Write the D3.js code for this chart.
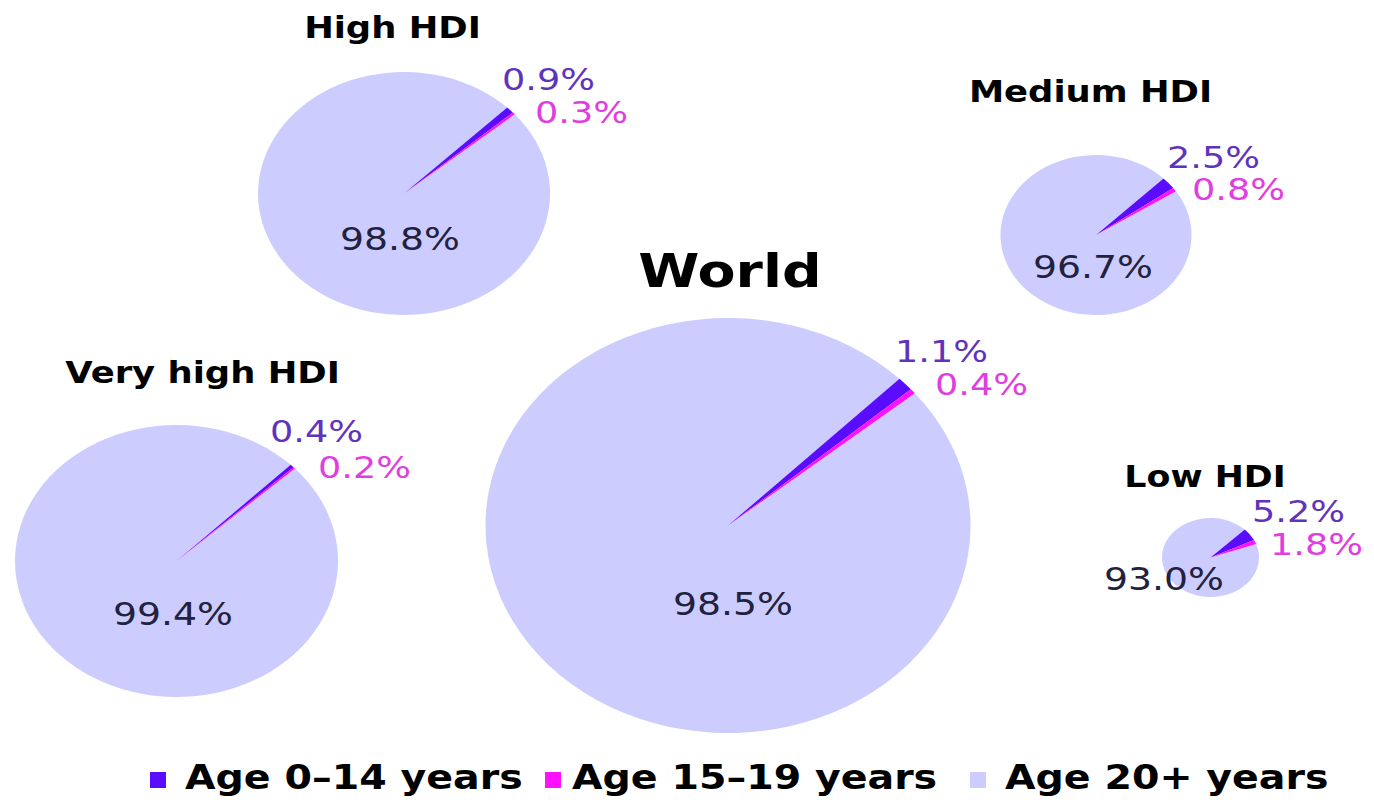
<!DOCTYPE html>
<html>
<head>
<meta charset="utf-8">
<script src="https://cdn.jsdelivr.net/npm/d3@7"></script>
<style>
  html, body { margin: 0; padding: 0; background: #fff; }
  svg { display: block; }
  text { font-family: "DejaVu Sans", Verdana, sans-serif; }
</style>
</head>
<body>
<svg id="chart" width="1374" height="800"></svg>
<script>
// Share of people by age group, per HDI grouping
const regions   = ["World", "Very high HDI", "High HDI", "Medium HDI", "Low HDI"];
const ageGroups = ["Age 0\u201314 years", "Age 15\u201319 years", "Age 20+ years"];
const age0to14  = [1.1, 0.4, 0.9, 2.5, 5.2];
const age15to19 = [0.4, 0.2, 0.3, 0.8, 1.8];
const age20plus = [98.5, 99.4, 98.8, 96.7, 93.0];

// Placement of each pie (ellipse centre and radii) and its labels
const layout = {
  "World":         { cx: 728,    cy: 525.5, rx: 242.5, ry: 207.5, title: [730, 287, 47],    big: [733, 615],  s1: [895, 362],  s2: [935, 395] },
  "Very high HDI": { cx: 176.5,  cy: 561,   rx: 161.5, ry: 136,   title: [202.5, 383, 30],  big: [173, 625],  s1: [270, 442],  s2: [318, 478] },
  "High HDI":      { cx: 404,    cy: 193.5, rx: 146,   ry: 121.5, title: [392.5, 38, 30],   big: [400, 250],  s1: [502, 90],   s2: [535, 123] },
  "Medium HDI":    { cx: 1096,   cy: 235,   rx: 95.5,  ry: 80,    title: [1090.5, 102, 30], big: [1093, 278], s1: [1167, 168], s2: [1192, 200] },
  "Low HDI":       { cx: 1210.5, cy: 557.5, rx: 48.5,  ry: 39.5,  title: [1205, 487, 29.5], big: [1164, 590], s1: [1252, 522], s2: [1270, 555] }
};

const colors = d3.scaleOrdinal().domain(ageGroups).range(["#5a0cff", "#ff10ff", "#ccccff"]);
const labelColors = ["#6033bd", "#e13de0", "#22223e"];
const stretch = 1.18;   // horizontal stretch applied to text
const fmt = v => d3.format(".1f")(v) + "%";

const svg = d3.select("#chart");

const pie = d3.pie()
  .sort(null)
  .value(d => d.value)
  .startAngle(Math.PI / 4)
  .endAngle(Math.PI / 4 + 2 * Math.PI);

function addText(sel, x, y, str, opts) {
  const g = sel.append("g").attr("transform", `translate(${x},${y}) scale(${stretch},1)`);
  g.append("text")
    .attr("x", 0).attr("y", 0)
    .attr("text-anchor", opts.anchor || "start")
    .attr("font-size", opts.size)
    .attr("font-weight", opts.weight || "normal")
    .attr("fill", opts.fill)
    .text(str);
  return g;
}

regions.forEach((name, i) => {
  const L = layout[name];
  const values = [age0to14[i], age15to19[i], age20plus[i]];
  const data = ageGroups.map((k, j) => ({ key: k, value: values[j] }));

  const arc = d3.arc().innerRadius(0).outerRadius(L.ry);
  const g = svg.append("g")
    .attr("transform", `translate(${L.cx},${L.cy}) scale(${L.rx / L.ry},1)`);

  // Largest slice first so the thin wedges sit on top
  const arcs = pie(data);
  g.selectAll("path")
    .data([arcs[2], arcs[0], arcs[1]])
    .join("path")
    .attr("d", arc)
    .attr("fill", d => colors(d.data.key));

  // Titles
  addText(svg, L.title[0], L.title[1], name, { anchor: "middle", size: L.title[2], weight: "bold", fill: "#000" });
  // Value labels
  addText(svg, L.big[0], L.big[1], fmt(values[2]), { anchor: "middle", size: 32, fill: labelColors[2] });
  addText(svg, L.s1[0], L.s1[1], fmt(values[0]), { size: 31, fill: labelColors[0] });
  addText(svg, L.s2[0], L.s2[1], fmt(values[1]), { size: 31, fill: labelColors[1] });
});

// Legend
const legendPos = [[150, 185], [545, 572], [970, 1005]];
ageGroups.forEach((k, j) => {
  svg.append("rect")
    .attr("x", legendPos[j][0]).attr("y", 772)
    .attr("width", 16).attr("height", 16)
    .attr("fill", colors(k));
  addText(svg, legendPos[j][1], 789, k, { size: 33.5, weight: "bold", fill: "#000" });
});
</script>
</body>
</html>
